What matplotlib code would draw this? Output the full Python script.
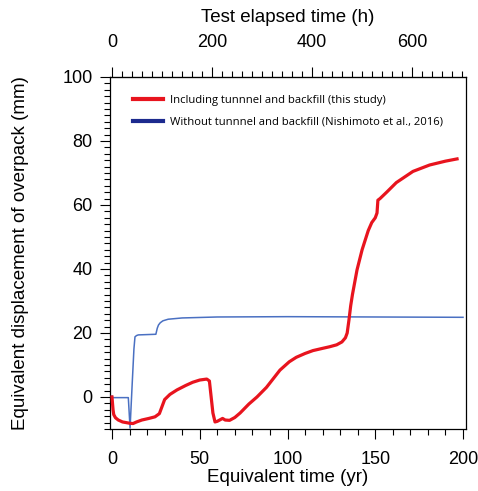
import numpy as np
import matplotlib
matplotlib.use("Agg")
import matplotlib.pyplot as plt
from matplotlib.lines import Line2D
from matplotlib.ticker import MultipleLocator, FixedLocator

# --- Data ---
# red: including tunnel and backfill (this study)
red_t = [0, 0.3, 0.6, 1.0, 2.0, 3.6, 6.0, 10.0, 12.0, 14.0, 17.0, 21.0, 24.5, 27.0,
         28.5, 30.0, 33.0, 37.0, 42.0, 46.0, 50.0, 54.0, 55.5, 56.5, 57.5, 58.7,
         60.0, 62.0, 63.0, 64.5, 67.0, 70.0, 73.0, 78.0, 82.6, 88.0, 95.7, 101.0,
         105.0, 110.0, 114.5, 120.0, 124.0, 128.0, 131.0, 133.0, 134.0, 135.0,
         136.0, 137.0, 139.6, 142.5, 146.0, 148.0, 150.0, 151.0, 151.5, 152.7,
         156.5, 162.0, 171.5, 181.0, 190.0, 196.6]
red_d = [0, -2.0, -4.0, -5.5, -6.5, -7.2, -7.8, -8.2, -8.3, -7.8, -7.2, -6.7, -6.2, -5.2,
         -3.0, -0.8, 0.8, 2.2, 3.6, 4.6, 5.3, 5.6, 5.0, 0.0, -5.0, -7.8,
         -7.6, -7.0, -6.7, -7.2, -7.3, -6.4, -5.0, -2.2, 0.0, 3.0, 8.4, 11.0,
         12.4, 13.6, 14.5, 15.2, 15.7, 16.3, 17.2, 18.5, 20.0, 24.0,
         28.5, 32.0, 39.7, 46.0, 52.0, 54.5, 56.0, 57.5, 61.5, 62.0,
         64.0, 67.0, 70.5, 72.5, 73.7, 74.4]

# blue: without tunnel and backfill (Nishimoto et al., 2016)
blue_t = [0, 0.5, 5.0, 9.3, 10.3, 11.5, 12.5, 13.1, 14.0, 15.0, 20.0, 25.0, 25.8,
          26.5, 27.5, 29.0, 32.0, 40.0, 60.0, 100.0, 150.0, 200.0]
blue_d = [0.3, -0.2, -0.2, -0.2, -9.7, 4.0, 15.0, 18.8, 19.2, 19.4, 19.5, 19.6, 21.5,
          22.5, 23.2, 23.8, 24.3, 24.7, 25.0, 25.1, 25.0, 24.9]

legend_labels = ["Including tunnnel and backfill (this study)",
                 "Without tunnnel and backfill (Nishimoto et al., 2016)"]

top_ticks = [0, 200, 400, 600]
hours_per_year = 3.51

plt.rcParams['font.family'] = ['Liberation Sans', 'DejaVu Sans']

fig = plt.figure(figsize=(4.78, 4.91), dpi=100)
ax = fig.add_axes([0.2301, 0.1263, 0.7448, 0.7169])

ax.plot(blue_t, blue_d, color="#4a70c2", lw=1.1, zorder=2)
ax.plot(red_t, red_d, color="#e8141e", lw=2.3, zorder=3)

ax.set_xlim(-1.14, 201.7)
ax.set_ylim(-10, 100)

ax.xaxis.set_major_locator(MultipleLocator(50))
ax.xaxis.set_minor_locator(MultipleLocator(10))
ax.yaxis.set_major_locator(MultipleLocator(20))
ax.yaxis.set_minor_locator(MultipleLocator(2))
ax.tick_params(which="major", direction="out", length=7.5, width=0.8, labelsize=13)
ax.tick_params(axis="x", which="major", pad=8)
ax.tick_params(axis="y", which="major", pad=5)
ax.tick_params(which="minor", direction="out", length=4, width=0.8)
for s in ax.spines.values():
    s.set_linewidth(0.9)

ax.set_xlabel("Equivalent time (yr)", fontsize=13.5, labelpad=1)
ax.set_ylabel("Equivalent displacement of overpack (mm)", fontsize=13.5, labelpad=24)

# --- top axis: test elapsed time ---
top = ax.secondary_xaxis("top", functions=(lambda x: x * hours_per_year,
                                           lambda h: h / hours_per_year))
top.xaxis.set_major_locator(FixedLocator(top_ticks))
top.xaxis.set_minor_locator(MultipleLocator(20))
top.tick_params(which="major", direction="out", length=7.5, width=0.8, labelsize=13, pad=11)
top.tick_params(which="minor", direction="out", length=4, width=0.8)
top.set_xlabel("Test elapsed time (h)", fontsize=13.5, labelpad=9)

handles = [Line2D([], [], color="#e8141e", lw=3),
           Line2D([], [], color="#1c2a8e", lw=3)]
ax.legend(handles, legend_labels, loc="upper left", bbox_to_anchor=(0.066, 0.95),
          frameon=False, handlelength=2.6, handletextpad=0.65,
          labelspacing=1.0, borderpad=0, borderaxespad=0,
          prop={"family": ["Open Sans", "DejaVu Sans"], "size": 8.1})

fig.savefig("out.png", dpi=100)
